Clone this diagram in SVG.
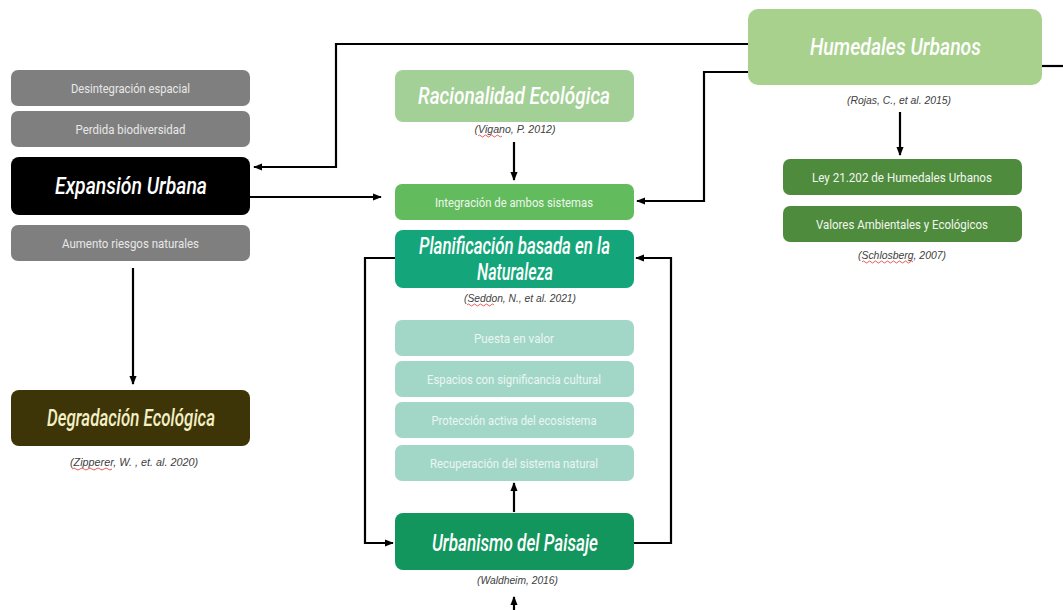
<svg xmlns="http://www.w3.org/2000/svg" width="1063" height="610" viewBox="0 0 1063 610">
<defs>
<marker id="ah" viewBox="0 0 10 10" refX="9" refY="5" markerWidth="9" markerHeight="9" markerUnits="userSpaceOnUse" orient="auto">
<path d="M0,1 L10,5 L0,9 z" fill="#000"/>
</marker>
<style>
.t{font-family:Roboto,"Liberation Sans",sans-serif;text-anchor:middle}
.s{font-size:13.5px}
.b{font-size:23px;font-style:italic;font-weight:500}
.c{font-family:"Liberation Sans",Arial,sans-serif;font-size:10.5px;font-style:italic;fill:#404040;text-anchor:middle}
.gray{fill:#7f7f7f}
.lt{fill:#a2d6c7}
.dk{fill:#4f8b3d}
.wl{fill:none;stroke:#d33;stroke-width:0.8}
.cn{fill:none;stroke:#000;stroke-width:2.2}
</style>
</defs>
<rect width="1063" height="610" fill="#fff"/>

<g id="connectors">
<path class="cn" d="M748,44 H336 V167 H254" marker-end="url(#ah)"/>
<path class="cn" d="M748,72 H704 V201 H637" marker-end="url(#ah)"/>
<path class="cn" d="M250,197 H381" marker-end="url(#ah)"/>
<path class="cn" d="M1042,66 H1063"/>
<path class="cn" d="M514,142 V180" marker-end="url(#ah)"/>
<path class="cn" d="M900,112 V155" marker-end="url(#ah)"/>
<path class="cn" d="M133,268 V384" marker-end="url(#ah)"/>
<path class="cn" d="M395,258 H365 V543 H393" marker-end="url(#ah)"/>
<path class="cn" d="M634,543 H671 V258 H636" marker-end="url(#ah)"/>
<path class="cn" d="M514,512 V483" marker-end="url(#ah)"/>
<path class="cn" d="M514,610 V597" marker-end="url(#ah)"/>
</g>

<g id="desintegracion">
<rect class="gray" x="11" y="70" width="239" height="36" rx="7"/>
<text class="t s" x="130.5" y="93" fill="#e8e8e8" textLength="119" lengthAdjust="spacingAndGlyphs">Desintegración espacial</text>
</g>
<g id="perdida">
<rect class="gray" x="11" y="111" width="239" height="36" rx="7"/>
<text class="t s" x="130.5" y="134" fill="#e8e8e8" textLength="110" lengthAdjust="spacingAndGlyphs">Perdida biodiversidad</text>
</g>
<g id="expansion">
<rect x="11" y="157" width="239" height="58" rx="8" fill="#000"/>
<text class="t b" x="131" y="194" fill="#fff" textLength="152" lengthAdjust="spacingAndGlyphs">Expansión Urbana</text>
</g>
<g id="aumento">
<rect class="gray" x="11" y="225" width="239" height="36" rx="7"/>
<text class="t s" x="130.5" y="248" fill="#e8e8e8" textLength="137" lengthAdjust="spacingAndGlyphs">Aumento riesgos naturales</text>
</g>
<g id="degradacion">
<rect x="11" y="390" width="239" height="56" rx="8" fill="#3d3508"/>
<text class="t b" x="131" y="426" fill="#f3efc4" font-weight="700" textLength="168" lengthAdjust="spacingAndGlyphs">Degradación Ecológica</text>
<text class="c" x="134" y="466" textLength="128" lengthAdjust="spacingAndGlyphs">(Zipperer, W. , et. al. 2020)</text>
<path class="wl" d="M72,469 q2,-2 4,0 t4,0 t4,0 t4,0 t4,0 t4,0 t4,0 t4,0 t4,0 t4,0"/>
</g>

<g id="racionalidad">
<rect x="395" y="70" width="239" height="52" rx="8" fill="#a3d096"/>
<text class="t b" x="514" y="104" fill="#fff" font-weight="700" textLength="192" lengthAdjust="spacingAndGlyphs">Racionalidad Ecológica</text>
<text class="c" x="515" y="133" textLength="81" lengthAdjust="spacingAndGlyphs">(Vigano, P. 2012)</text>
<path class="wl" d="M478,136 q1.5,-2 3,0 t3,0 t3,0 t3,0 t3,0 t3,0 t3,0 t3,0"/>
</g>
<g id="integracion">
<rect x="395" y="184" width="239" height="36" rx="7" fill="#62bb5c"/>
<text class="t s" x="514" y="207" fill="#eef8ec" textLength="158" lengthAdjust="spacingAndGlyphs">Integración de ambos sistemas</text>
</g>
<g id="planificacion">
<rect x="395" y="230" width="239" height="58" rx="8" fill="#14a67a"/>
<text class="t b" x="514.5" y="254" fill="#fff" font-weight="700" font-size="20" textLength="191" lengthAdjust="spacingAndGlyphs">Planificación basada en la</text>
<text class="t b" x="515" y="280" fill="#fff" font-weight="700" font-size="20" textLength="76" lengthAdjust="spacingAndGlyphs">Naturaleza</text>
<text class="c" x="520" y="302" textLength="112" lengthAdjust="spacingAndGlyphs">(Seddon, N., et al. 2021)</text>
<path class="wl" d="M467,305 q1.5,-2 3,0 t3,0 t3,0 t3,0 t3,0 t3,0 t3,0 t3,0 t3,0"/>
</g>
<g id="puesta">
<rect class="lt" x="395" y="320" width="239" height="36" rx="7"/>
<text class="t s" x="514" y="343" fill="#eaf6f2" textLength="80" lengthAdjust="spacingAndGlyphs">Puesta en valor</text>
</g>
<g id="espacios">
<rect class="lt" x="395" y="361" width="239" height="36" rx="7"/>
<text class="t s" x="514" y="384" fill="#eaf6f2" textLength="174" lengthAdjust="spacingAndGlyphs">Espacios con significancia cultural</text>
</g>
<g id="proteccion">
<rect class="lt" x="395" y="402" width="239" height="36" rx="7"/>
<text class="t s" x="514" y="425" fill="#eaf6f2" textLength="165" lengthAdjust="spacingAndGlyphs">Protección activa del ecosistema</text>
</g>
<g id="recuperacion">
<rect class="lt" x="395" y="445" width="239" height="36" rx="7"/>
<text class="t s" x="514" y="468" fill="#eaf6f2" textLength="168" lengthAdjust="spacingAndGlyphs">Recuperación del sistema natural</text>
</g>
<g id="urbanismo">
<rect x="395" y="513" width="239" height="57" rx="8" fill="#13965d"/>
<text class="t b" x="515" y="551" fill="#fff" textLength="166" lengthAdjust="spacingAndGlyphs">Urbanismo del Paisaje</text>
<text class="c" x="517.5" y="584" textLength="81" lengthAdjust="spacingAndGlyphs">(Waldheim, 2016)</text>
</g>

<g id="humedales">
<rect x="748" y="9" width="294" height="76" rx="10" fill="#a9d18e"/>
<text class="t b" x="895.5" y="55" fill="#fff" textLength="171" lengthAdjust="spacingAndGlyphs">Humedales Urbanos</text>
<text class="c" x="899" y="104" textLength="104" lengthAdjust="spacingAndGlyphs">(Rojas, C., et al. 2015)</text>
</g>
<g id="ley">
<rect class="dk" x="783" y="159" width="239" height="36" rx="7"/>
<text class="t s" x="902" y="182" fill="#f2f7ef" textLength="180" lengthAdjust="spacingAndGlyphs">Ley 21.202 de Humedales Urbanos</text>
</g>
<g id="valores">
<rect class="dk" x="783" y="206" width="239" height="36" rx="7"/>
<text class="t s" x="902" y="229" fill="#f2f7ef" textLength="172" lengthAdjust="spacingAndGlyphs">Valores Ambientales y Ecológicos</text>
<text class="c" x="902" y="259" textLength="88" lengthAdjust="spacingAndGlyphs">(Schlosberg, 2007)</text>
<path class="wl" d="M862,262 q1.5,-2 3,0 t3,0 t3,0 t3,0 t3,0 t3,0 t3,0 t3,0 t3,0 t3,0 t3,0 t3,0 t3,0 t3,0 t3,0 t3,0 t3,0"/>
</g>
</svg>
